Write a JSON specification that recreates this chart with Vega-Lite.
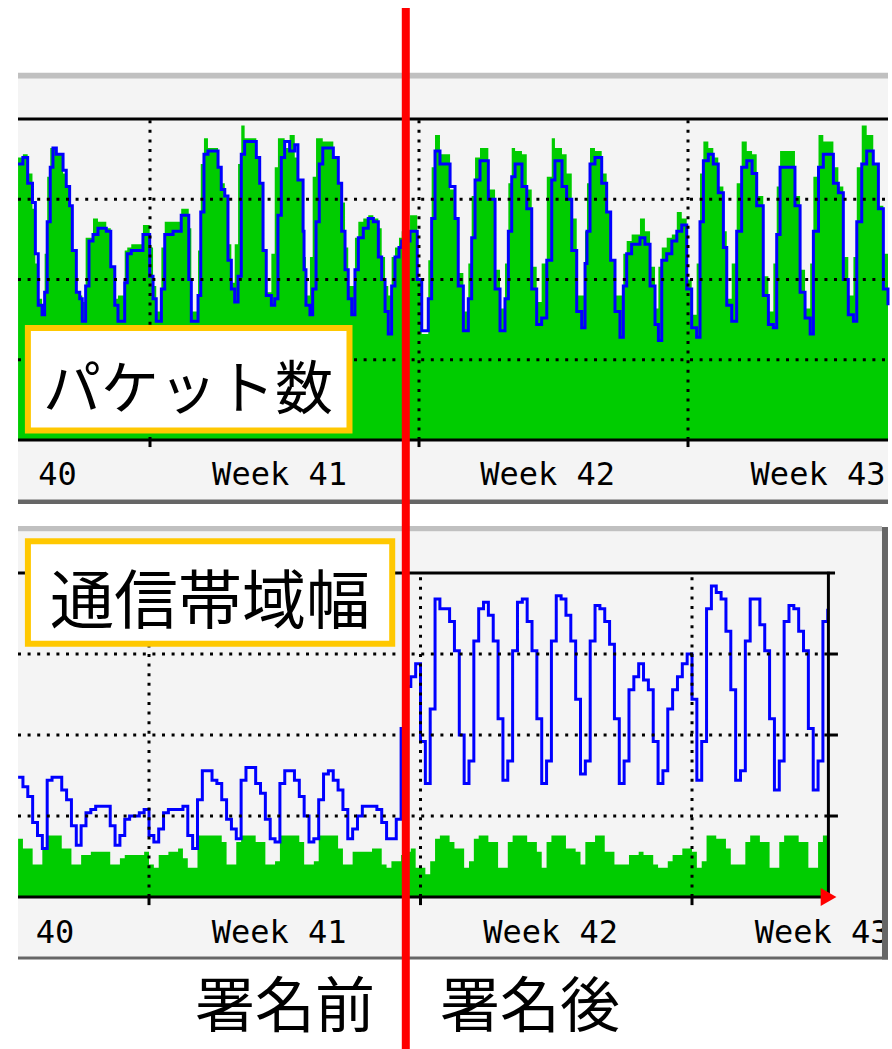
{
  "$schema": "https://vega.github.io/schema/vega-lite/v6.json",
  "background": "white",
  "padding": 0,
  "spacing": 0,
  "bounds": "flush",
  "config": {"view": {"stroke": null}, "concat": {"spacing": 0}},
  "resolve": {"scale": {"x": "independent", "y": "independent"}},
  "datasets": {
    "packets": [
      {"t":-82.4,"g":88,"b":86},{"t":-79.4,"g":89,"b":88},{"t":-76.4,"g":83,"b":80},{"t":-73.4,"g":72,"b":74},{"t":-71.6,"g":55,"b":58},{"t":-69.8,"g":44,"b":42},{"t":-67.4,"g":39,"b":39},{"t":-65.8,"g":58,"b":46},{"t":-64.2,"g":82,"b":68},{"t":-62.3,"g":91,"b":85},{"t":-60.6,"g":91,"b":91},{"t":-58.5,"g":89,"b":89},{"t":-54.3,"g":83,"b":84},{"t":-52.3,"g":79,"b":79},{"t":-50.2,"g":73,"b":73},{"t":-48.5,"g":59,"b":59},{"t":-46,"g":46,"b":46},{"t":-43.9,"g":45,"b":44},{"t":-42.3,"g":43,"b":37},{"t":-40.2,"g":63,"b":48},{"t":-38.1,"g":63,"b":62},{"t":-35.6,"g":69,"b":64},{"t":-32.5,"g":68,"b":66},{"t":-27.3,"g":66,"b":65},{"t":-24.5,"g":54,"b":54},{"t":-22,"g":44,"b":42},{"t":-20,"g":45,"b":37},{"t":-15.8,"g":59,"b":49},{"t":-14.2,"g":60,"b":58},{"t":-11.7,"g":61,"b":59},{"t":-4.4,"g":67,"b":64},{"t":-0.2,"g":60,"b":51},
      {"t":1.9,"g":48,"b":44},{"t":3.9,"g":40,"b":37},{"t":7.1,"g":60,"b":47},{"t":9.2,"g":68,"b":64},{"t":14.4,"g":68,"b":65},{"t":19.5,"g":72,"b":70},{"t":24.2,"g":66,"b":50},{"t":25.8,"g":40,"b":37},{"t":30,"g":59,"b":45},{"t":31.7,"g":86,"b":71},{"t":33.7,"g":94,"b":89},{"t":36.2,"g":91,"b":90},{"t":42.5,"g":85,"b":85},{"t":44.5,"g":80,"b":78},{"t":46.7,"g":76,"b":76},{"t":48.7,"g":61,"b":56},{"t":50.8,"g":49,"b":47},{"t":52.9,"g":61,"b":43},{"t":55,"g":86,"b":51},{"t":57,"g":98,"b":89},{"t":59.1,"g":94,"b":93},{"t":66.4,"g":88,"b":88},{"t":68.5,"g":80,"b":80},{"t":70.6,"g":59,"b":59},{"t":72.6,"g":46,"b":45},{"t":75.8,"g":58,"b":42},{"t":77.9,"g":85,"b":44},{"t":79.9,"g":94,"b":70},{"t":82,"g":94,"b":88},{"t":84.1,"g":91,"b":93},{"t":87.2,"g":95,"b":90},{"t":90.4,"g":88,"b":92},{"t":92.4,"g":81,"b":81},{"t":95.6,"g":75,"b":65},{"t":96.2,"g":57,"b":53},{"t":97.4,"g":45,"b":42},{"t":99.9,"g":57,"b":39},{"t":101.6,"g":82,"b":47},{"t":103.7,"g":94,"b":68},{"t":105.7,"g":94,"b":86},{"t":107.9,"g":93,"b":91},{"t":114.5,"g":88,"b":88},{"t":117.6,"g":80,"b":80},{"t":119.7,"g":74,"b":65},{"t":121.8,"g":60,"b":53},{"t":123.8,"g":48,"b":44},{"t":126,"g":48,"b":39},{"t":128,"g":63,"b":53},{"t":130.1,"g":68,"b":63},{"t":133.2,"g":69,"b":66},{"t":136.3,"g":70,"b":69},{"t":139.5,"g":69,"b":68},{"t":142.6,"g":66,"b":57},{"t":144.7,"g":57,"b":50},{"t":146.8,"g":48,"b":40},{"t":148.8,"g":45,"b":33},{"t":150.9,"g":57,"b":48},{"t":153,"g":60,"b":57},{"t":155.5,"g":63,"b":60},{"t":157.2,"g":65,"b":62},{"t":162.4,"g":70,"b":65},{"t":166.9,"g":50,"b":50},
      {"t":169.7,"g":33,"b":34},{"t":173.8,"g":56,"b":44},{"t":175.9,"g":85,"b":69},{"t":178,"g":95,"b":90},{"t":181.1,"g":89,"b":86},{"t":187.4,"g":78,"b":79},{"t":190.5,"g":69,"b":69},{"t":192.5,"g":52,"b":48},{"t":195.7,"g":40,"b":34},{"t":198.8,"g":55,"b":44},{"t":200.9,"g":76,"b":63},{"t":203,"g":88,"b":81},{"t":206.1,"g":91,"b":87},{"t":211.3,"g":78,"b":75},{"t":215.5,"g":53,"b":47},{"t":218.6,"g":41,"b":34},{"t":221.7,"g":55,"b":44},{"t":223.8,"g":80,"b":65},{"t":225.9,"g":91,"b":82},{"t":228,"g":90,"b":86},{"t":232.3,"g":89,"b":79},{"t":235.3,"g":78,"b":72},{"t":238.4,"g":54,"b":47},{"t":241.5,"g":43,"b":36},{"t":244.6,"g":55,"b":38},{"t":247.8,"g":82,"b":56},{"t":250.9,"g":94,"b":81},{"t":252.9,"g":91,"b":87},{"t":257.3,"g":89,"b":79},{"t":260.2,"g":83,"b":75},{"t":263.4,"g":69,"b":59},{"t":266.5,"g":45,"b":40},{"t":269.6,"g":45,"b":35},{"t":271.7,"g":65,"b":55},{"t":272.9,"g":80,"b":65},{"t":274.8,"g":91,"b":86},{"t":277.9,"g":90,"b":88},{"t":282.1,"g":83,"b":80},{"t":285.2,"g":71,"b":71},{"t":287.7,"g":56,"b":56},{"t":290.4,"g":45,"b":40},{"t":293.5,"g":45,"b":32},{"t":295.6,"g":58,"b":48},{"t":297.7,"g":62,"b":58},{"t":300.8,"g":64,"b":61},{"t":306,"g":69,"b":63},{"t":309.1,"g":65,"b":61},{"t":312.3,"g":54,"b":48},{"t":315.4,"g":41,"b":36},{"t":317.5,"g":54,"b":31},{"t":319.6,"g":60,"b":56},{"t":322.7,"g":63,"b":58},{"t":325.9,"g":64,"b":62},{"t":329,"g":71,"b":65},{"t":332.1,"g":69,"b":67},{"t":335.2,"g":50,"b":47},
      {"t":338.3,"g":39,"b":35},{"t":341.4,"g":55,"b":32},{"t":343.5,"g":83,"b":68},{"t":345.6,"g":93,"b":87},{"t":348.7,"g":91,"b":89},{"t":351.8,"g":88,"b":86},{"t":354.9,"g":79,"b":77},{"t":358.1,"g":65,"b":60},{"t":360.2,"g":44,"b":42},{"t":363.3,"g":55,"b":37},{"t":366.4,"g":80,"b":65},{"t":369.5,"g":93,"b":85},{"t":372.7,"g":90,"b":87},{"t":376,"g":89,"b":83},{"t":378.9,"g":76,"b":73},{"t":383,"g":51,"b":45},{"t":386.2,"g":40,"b":36},{"t":389.3,"g":55,"b":35},{"t":391.4,"g":79,"b":64},{"t":393.5,"g":90,"b":85},{"t":397.6,"g":90,"b":85},{"t":402.8,"g":76,"b":73},{"t":406,"g":53,"b":46},{"t":409.1,"g":41,"b":38},{"t":412.3,"g":55,"b":33},{"t":414.3,"g":82,"b":65},{"t":417.5,"g":95,"b":85},{"t":420.5,"g":93,"b":89},{"t":426.8,"g":85,"b":80},{"t":429.9,"g":79,"b":77},{"t":433,"g":57,"b":50},{"t":436.1,"g":45,"b":39},{"t":439.3,"g":57,"b":37},{"t":441.4,"g":85,"b":68},{"t":444.5,"g":98,"b":86},{"t":447.6,"g":95,"b":90},{"t":451.7,"g":86,"b":86},{"t":454.9,"g":73,"b":72},{"t":458,"g":58,"b":47},{"t":460.9,"g":50,"b":42}
    ],
    "bandwidth": [
      {"t":-81,"g":18,"b":37},{"t":-78,"g":15,"b":34},{"t":-75,"g":15,"b":31},{"t":-72,"g":10,"b":23},{"t":-69,"g":10,"b":19},{"t":-66,"g":15,"b":15},{"t":-63,"g":19,"b":36},{"t":-60,"g":19,"b":37},{"t":-57,"g":19,"b":37},{"t":-54,"g":15,"b":33},{"t":-51,"g":15,"b":30},{"t":-48,"g":10,"b":22},{"t":-45,"g":10,"b":16},{"t":-42,"g":13,"b":22},{"t":-39,"g":13,"b":26},{"t":-36,"g":14,"b":27},{"t":-33,"g":14,"b":28},{"t":-30,"g":14,"b":28},{"t":-27,"g":14,"b":28},{"t":-24,"g":10,"b":22},{"t":-21,"g":10,"b":16},{"t":-18,"g":12,"b":19},{"t":-15,"g":13,"b":24},{"t":-12,"g":13,"b":25},{"t":-9,"g":13,"b":25},{"t":-6,"g":13,"b":26},{"t":-3,"g":14,"b":27},
      {"t":0,"g":10,"b":19},{"t":3,"g":9,"b":17},{"t":6,"g":13,"b":21},{"t":9,"g":13,"b":26},{"t":12,"g":14,"b":27},{"t":15,"g":14,"b":27},{"t":18,"g":15,"b":27},{"t":21,"g":12,"b":28},{"t":24,"g":9,"b":19},{"t":27,"g":9,"b":15},{"t":30,"g":19,"b":30},{"t":33,"g":19,"b":39},{"t":36,"g":19,"b":39},{"t":39,"g":19,"b":36},{"t":42,"g":19,"b":35},{"t":45,"g":17,"b":30},{"t":48,"g":10,"b":24},{"t":51,"g":10,"b":21},{"t":54,"g":17,"b":18},{"t":57,"g":19,"b":36},{"t":60,"g":19,"b":40},{"t":63,"g":19,"b":40},{"t":66,"g":17,"b":35},{"t":69,"g":17,"b":32},{"t":72,"g":10,"b":24},{"t":75,"g":10,"b":18},{"t":78,"g":11,"b":17},{"t":81,"g":19,"b":35},{"t":84,"g":19,"b":39},{"t":87,"g":19,"b":39},{"t":90,"g":19,"b":36},{"t":93,"g":17,"b":31},{"t":96,"g":10,"b":25},{"t":99,"g":10,"b":17},{"t":102,"g":11,"b":18},{"t":105,"g":19,"b":30},{"t":108,"g":19,"b":38},{"t":111,"g":19,"b":39},{"t":114,"g":19,"b":36},{"t":117,"g":15,"b":33},{"t":120,"g":10,"b":27},{"t":123,"g":10,"b":18},{"t":126,"g":14,"b":21},{"t":129,"g":14,"b":25},{"t":132,"g":14,"b":28},{"t":135,"g":14,"b":28},{"t":138,"g":15,"b":28},{"t":141,"g":15,"b":27},{"t":144,"g":10,"b":23},{"t":147,"g":9,"b":18},{"t":150,"g":11,"b":18},{"t":153,"g":11,"b":24},{"t":156,"g":13,"b":52},{"t":159,"g":14,"b":65},{"t":162,"g":15,"b":68},{"t":165,"g":9,"b":72},
      {"t":168,"g":9,"b":48},{"t":171,"g":7,"b":35},{"t":174,"g":11,"b":58},{"t":177,"g":18,"b":92},{"t":180,"g":19,"b":89},{"t":183,"g":19,"b":89},{"t":186,"g":17,"b":85},{"t":189,"g":15,"b":76},{"t":192,"g":15,"b":50},{"t":195,"g":9,"b":35},{"t":198,"g":11,"b":42},{"t":201,"g":18,"b":79},{"t":204,"g":19,"b":89},{"t":207,"g":19,"b":91},{"t":210,"g":17,"b":87},{"t":213,"g":17,"b":79},{"t":216,"g":9,"b":55},{"t":219,"g":9,"b":36},{"t":222,"g":17,"b":42},{"t":225,"g":19,"b":76},{"t":228,"g":19,"b":91},{"t":231,"g":19,"b":92},{"t":234,"g":17,"b":85},{"t":237,"g":17,"b":76},{"t":240,"g":14,"b":55},{"t":243,"g":9,"b":35},{"t":246,"g":17,"b":42},{"t":249,"g":19,"b":79},{"t":252,"g":19,"b":93},{"t":255,"g":19,"b":92},{"t":258,"g":15,"b":87},{"t":261,"g":15,"b":79},{"t":264,"g":14,"b":61},{"t":267,"g":10,"b":38},{"t":270,"g":17,"b":42},{"t":273,"g":17,"b":79},{"t":276,"g":19,"b":90},{"t":279,"g":19,"b":89},{"t":282,"g":14,"b":85},{"t":285,"g":14,"b":78},{"t":288,"g":10,"b":55},{"t":291,"g":10,"b":35},{"t":294,"g":10,"b":42},{"t":297,"g":13,"b":64},{"t":300,"g":13,"b":68},{"t":303,"g":14,"b":72},{"t":306,"g":13,"b":67},{"t":309,"g":13,"b":64},{"t":312,"g":10,"b":48},{"t":315,"g":9,"b":35},{"t":318,"g":9,"b":39},{"t":321,"g":11,"b":58},{"t":324,"g":13,"b":64},{"t":327,"g":13,"b":68},{"t":330,"g":15,"b":72},{"t":333,"g":15,"b":75},
      {"t":336,"g":14,"b":61},{"t":339,"g":9,"b":36},{"t":342,"g":11,"b":48},{"t":345,"g":19,"b":89},{"t":348,"g":19,"b":96},{"t":351,"g":18,"b":94},{"t":354,"g":18,"b":92},{"t":357,"g":15,"b":82},{"t":360,"g":10,"b":64},{"t":363,"g":10,"b":36},{"t":366,"g":10,"b":39},{"t":369,"g":17,"b":79},{"t":372,"g":19,"b":92},{"t":375,"g":19,"b":92},{"t":378,"g":17,"b":84},{"t":381,"g":17,"b":76},{"t":384,"g":9,"b":55},{"t":387,"g":9,"b":33},{"t":390,"g":17,"b":42},{"t":393,"g":19,"b":85},{"t":396,"g":19,"b":90},{"t":399,"g":19,"b":89},{"t":402,"g":17,"b":82},{"t":405,"g":17,"b":76},{"t":408,"g":9,"b":52},{"t":411,"g":9,"b":33},{"t":414,"g":17,"b":42},{"t":417,"g":19,"b":85},{"t":420,"g":19,"b":89}
    ]
  },
  "vconcat": [
    {
      "width": 892,
      "height": 504,
      "layer": [
        {"data": {"values": [{}]}, "mark": {"type": "rect", "color": "#c0c0c0"},
         "encoding": {"x": {"datum": -82.44, "type": "quantitative", "axis": null, "scale": {"domain": [-93.68, 463.4], "nice": false, "zero": false}}, "x2": {"datum": 460.91},
                      "y": {"datum": 114.42, "type": "quantitative", "axis": null, "scale": {"domain": [-19.94, 137.07], "nice": false, "zero": false}}, "y2": {"datum": 112.55}}},
        {"data": {"values": [{}]}, "mark": {"type": "rect", "color": "#f4f4f4"},
         "encoding": {"x": {"datum": -82.44, "type": "quantitative", "axis": null}, "x2": {"datum": 460.91}, "y": {"datum": 112.55, "type": "quantitative", "axis": null}, "y2": {"datum": -18.54}}},
        {"data": {"values": [{}]}, "mark": {"type": "rect", "color": "#666666"},
         "encoding": {"x": {"datum": -82.44, "type": "quantitative", "axis": null}, "x2": {"datum": 460.91}, "y": {"datum": -18.54, "type": "quantitative", "axis": null}, "y2": {"datum": -19.94}}},
        {"data": {"name": "packets"}, "mark": {"type": "area", "interpolate": "step-after", "color": "#00cc00"},
         "encoding": {"x": {"field": "t", "type": "quantitative", "axis": null}, "y": {"field": "g", "type": "quantitative", "axis": null}, "y2": {"datum": 0}}},
        {"data": {"name": "packets"}, "mark": {"type": "line", "interpolate": "step-after", "color": "#0000ff", "strokeWidth": 3},
         "encoding": {"x": {"field": "t", "type": "quantitative", "axis": null}, "y": {"field": "b", "type": "quantitative", "axis": null}}},
        {"data": {"values": [{"v": 25}, {"v": 50}, {"v": 75}]}, "mark": {"type": "rule", "color": "#000000", "strokeWidth": 3, "strokeDash": [3, 6.6]},
         "encoding": {"y": {"field": "v", "type": "quantitative", "axis": null}, "x": {"datum": -82.44, "type": "quantitative", "axis": null}, "x2": {"datum": 460.91}}},
        {"data": {"values": [{"t": 0}, {"t": 168}, {"t": 336}]}, "mark": {"type": "rule", "color": "#000000", "strokeWidth": 3, "strokeDash": [3, 6.6]},
         "encoding": {"x": {"field": "t", "type": "quantitative", "axis": null}, "y": {"datum": 0, "type": "quantitative", "axis": null}, "y2": {"datum": 100}}},
        {"data": {"values": [{"v": 0}, {"v": 100}]}, "mark": {"type": "rule", "color": "#000000", "strokeWidth": 3},
         "encoding": {"y": {"field": "v", "type": "quantitative", "axis": null}, "x": {"datum": -82.44, "type": "quantitative", "axis": null}, "x2": {"datum": 460.91}}},
        {"data": {"values": [{"t": 0}, {"t": 168}, {"t": 336}]}, "mark": {"type": "rule", "color": "#000000", "strokeWidth": 3},
         "encoding": {"x": {"field": "t", "type": "quantitative", "axis": null}, "y": {"datum": 0, "type": "quantitative", "axis": null}, "y2": {"datum": -2.2}}},
        {"data": {"values": [{"t": -57.8, "label": "40"}, {"t": 80.9, "label": "Week 41"}, {"t": 248.3, "label": "Week 42"}, {"t": 417.2, "label": "Week 43"}]},
         "mark": {"type": "text", "font": "DejaVu Sans Mono", "fontSize": 32, "color": "#000000", "align": "center", "baseline": "alphabetic"},
         "encoding": {"x": {"field": "t", "type": "quantitative", "axis": null}, "y": {"datum": -14.02, "type": "quantitative", "axis": null}, "text": {"field": "label"}}},
        {"data": {"values": [{}]}, "mark": {"type": "rect", "fill": "#ffffff", "stroke": "#ffc800", "strokeWidth": 6},
         "encoding": {"x": {"datum": -76.26, "type": "quantitative", "axis": null}, "x2": {"datum": 124.59}, "y": {"datum": 34.92, "type": "quantitative", "axis": null}, "y2": {"datum": 2.96}}},
        {"data": {"values": [{"label": "パケット数"}]}, "mark": {"type": "text", "font": "Noto Sans CJK JP", "fontSize": 58, "color": "#000000", "align": "center", "baseline": "alphabetic"},
         "encoding": {"x": {"datum": 23.7, "type": "quantitative", "axis": null}, "y": {"datum": 9.66, "type": "quantitative", "axis": null}, "text": {"field": "label"}}},
        {"data": {"values": [{}]}, "mark": {"type": "rule", "color": "#ff0000", "strokeWidth": 8},
         "encoding": {"x": {"datum": 159.75, "type": "quantitative", "axis": null}, "y": {"datum": 134.58, "type": "quantitative", "axis": null}, "y2": {"datum": -19.94}}}
      ]
    },
    {
      "width": 892,
      "height": 545,
      "layer": [
        {"data": {"values": [{}]}, "mark": {"type": "rect", "color": "#c0c0c0"},
         "encoding": {"x": {"datum": -81.06, "type": "quantitative", "axis": null, "scale": {"domain": [-92.2, 459.75], "nice": false, "zero": false}}, "x2": {"datum": 453.56},
                      "y": {"datum": 114.51, "type": "quantitative", "axis": null, "scale": {"domain": [-46.91, 121.3], "nice": false, "zero": false}}, "y2": {"datum": 112.81}}},
        {"data": {"values": [{}]}, "mark": {"type": "rect", "color": "#f4f4f4"},
         "encoding": {"x": {"datum": -81.06, "type": "quantitative", "axis": null}, "x2": {"datum": 453.56}, "y": {"datum": 112.81, "type": "quantitative", "axis": null}, "y2": {"datum": -18.36}}},
        {"data": {"values": [{}]}, "mark": {"type": "rect", "color": "#666666"},
         "encoding": {"x": {"datum": -81.06, "type": "quantitative", "axis": null}, "x2": {"datum": 457.27}, "y": {"datum": -18.36, "type": "quantitative", "axis": null}, "y2": {"datum": -19.29}}},
        {"data": {"name": "bandwidth"}, "mark": {"type": "area", "interpolate": "step-after", "color": "#00cc00"},
         "encoding": {"x": {"field": "t", "type": "quantitative", "axis": null}, "y": {"field": "g", "type": "quantitative", "axis": null}, "y2": {"datum": 0}}},
        {"data": {"name": "bandwidth"}, "mark": {"type": "line", "interpolate": "step-after", "color": "#0000ff", "strokeWidth": 3},
         "encoding": {"x": {"field": "t", "type": "quantitative", "axis": null}, "y": {"field": "b", "type": "quantitative", "axis": null}}},
        {"data": {"values": [{"v": 25}, {"v": 50}, {"v": 75}]}, "mark": {"type": "rule", "color": "#000000", "strokeWidth": 3, "strokeDash": [3, 6.6]},
         "encoding": {"y": {"field": "v", "type": "quantitative", "axis": null}, "x": {"datum": -81.06, "type": "quantitative", "axis": null}, "x2": {"datum": 420.4}}},
        {"data": {"values": [{"v": 25}, {"v": 50}, {"v": 75}]}, "mark": {"type": "rule", "color": "#000000", "strokeWidth": 3},
         "encoding": {"y": {"field": "v", "type": "quantitative", "axis": null}, "x": {"datum": 420.4, "type": "quantitative", "axis": null}, "x2": {"datum": 426.3}}},
        {"data": {"values": [{"t": 0}, {"t": 168}, {"t": 336}]}, "mark": {"type": "rule", "color": "#000000", "strokeWidth": 3, "strokeDash": [3, 6.6]},
         "encoding": {"x": {"field": "t", "type": "quantitative", "axis": null}, "y": {"datum": 0, "type": "quantitative", "axis": null}, "y2": {"datum": 100}}},
        {"data": {"values": [{}]}, "mark": {"type": "rule", "color": "#000000", "strokeWidth": 3},
         "encoding": {"y": {"datum": 100, "type": "quantitative", "axis": null}, "x": {"datum": -81.06, "type": "quantitative", "axis": null}, "x2": {"datum": 424.5}}},
        {"data": {"values": [{}]}, "mark": {"type": "rule", "color": "#000000", "strokeWidth": 3},
         "encoding": {"y": {"datum": 0, "type": "quantitative", "axis": null}, "x": {"datum": -81.06, "type": "quantitative", "axis": null}, "x2": {"datum": 420.4}}},
        {"data": {"values": [{}]}, "mark": {"type": "rule", "color": "#000000", "strokeWidth": 3},
         "encoding": {"x": {"datum": 420.4, "type": "quantitative", "axis": null}, "y": {"datum": 0, "type": "quantitative", "axis": null}, "y2": {"datum": 100.4}}},
        {"data": {"values": [{"t": 0}, {"t": 168}, {"t": 336}]}, "mark": {"type": "rule", "color": "#000000", "strokeWidth": 3},
         "encoding": {"x": {"field": "t", "type": "quantitative", "axis": null}, "y": {"datum": 0, "type": "quantitative", "axis": null}, "y2": {"datum": -2.5}}},
        {"data": {"values": [{"t": -58.2, "label": "40"}, {"t": 80.5, "label": "Week 41"}, {"t": 248.5, "label": "Week 42"}, {"t": 416.5, "label": "Week 43"}]},
         "mark": {"type": "text", "font": "DejaVu Sans Mono", "fontSize": 32, "color": "#000000", "align": "center", "baseline": "alphabetic"},
         "encoding": {"x": {"field": "t", "type": "quantitative", "axis": null}, "y": {"datum": -14.2, "type": "quantitative", "axis": null}, "text": {"field": "label"}}},
        {"data": {"values": [{}]}, "mark": {"type": "rect", "color": "#666666"},
         "encoding": {"x": {"datum": 453.56, "type": "quantitative", "axis": null}, "x2": {"datum": 457.27}, "y": {"datum": 114.2, "type": "quantitative", "axis": null}, "y2": {"datum": -19.29}}},
        {"data": {"values": [{}]}, "mark": {"type": "point", "shape": "triangle-right", "filled": true, "color": "#ff0000", "opacity": 1, "size": 330},
         "encoding": {"x": {"datum": 420.5, "type": "quantitative", "axis": null}, "y": {"datum": 0, "type": "quantitative", "axis": null}}},
        {"data": {"values": [{}]}, "mark": {"type": "rect", "fill": "#ffffff", "stroke": "#ffc800", "strokeWidth": 6},
         "encoding": {"x": {"datum": -74.93, "type": "quantitative", "axis": null}, "x2": {"datum": 150.49}, "y": {"datum": 109.81, "type": "quantitative", "axis": null}, "y2": {"datum": 78.15}}},
        {"data": {"values": [{"label": "通信帯域幅"}]}, "mark": {"type": "text", "font": "Noto Sans CJK JP", "fontSize": 64, "color": "#000000", "align": "center", "baseline": "alphabetic"},
         "encoding": {"x": {"datum": 37.7, "type": "quantitative", "axis": null}, "y": {"datum": 84.57, "type": "quantitative", "axis": null}, "text": {"field": "label"}}},
        {"data": {"values": [{}]}, "mark": {"type": "rule", "color": "#ff0000", "strokeWidth": 8},
         "encoding": {"x": {"datum": 158.9, "type": "quantitative", "axis": null}, "y": {"datum": 121.3, "type": "quantitative", "axis": null}, "y2": {"datum": -46.91}}},
        {"data": {"values": [{"t": 84.2, "label": "署名前"}, {"t": 235.8, "label": "署名後"}]},
         "mark": {"type": "text", "font": "Noto Sans CJK JP", "fontSize": 60, "color": "#000000", "align": "center", "baseline": "middle"},
         "encoding": {"x": {"field": "t", "type": "quantitative", "axis": null}, "y": {"datum": -34.6, "type": "quantitative", "axis": null}, "text": {"field": "label"}}}
      ]
    }
  ]
}
